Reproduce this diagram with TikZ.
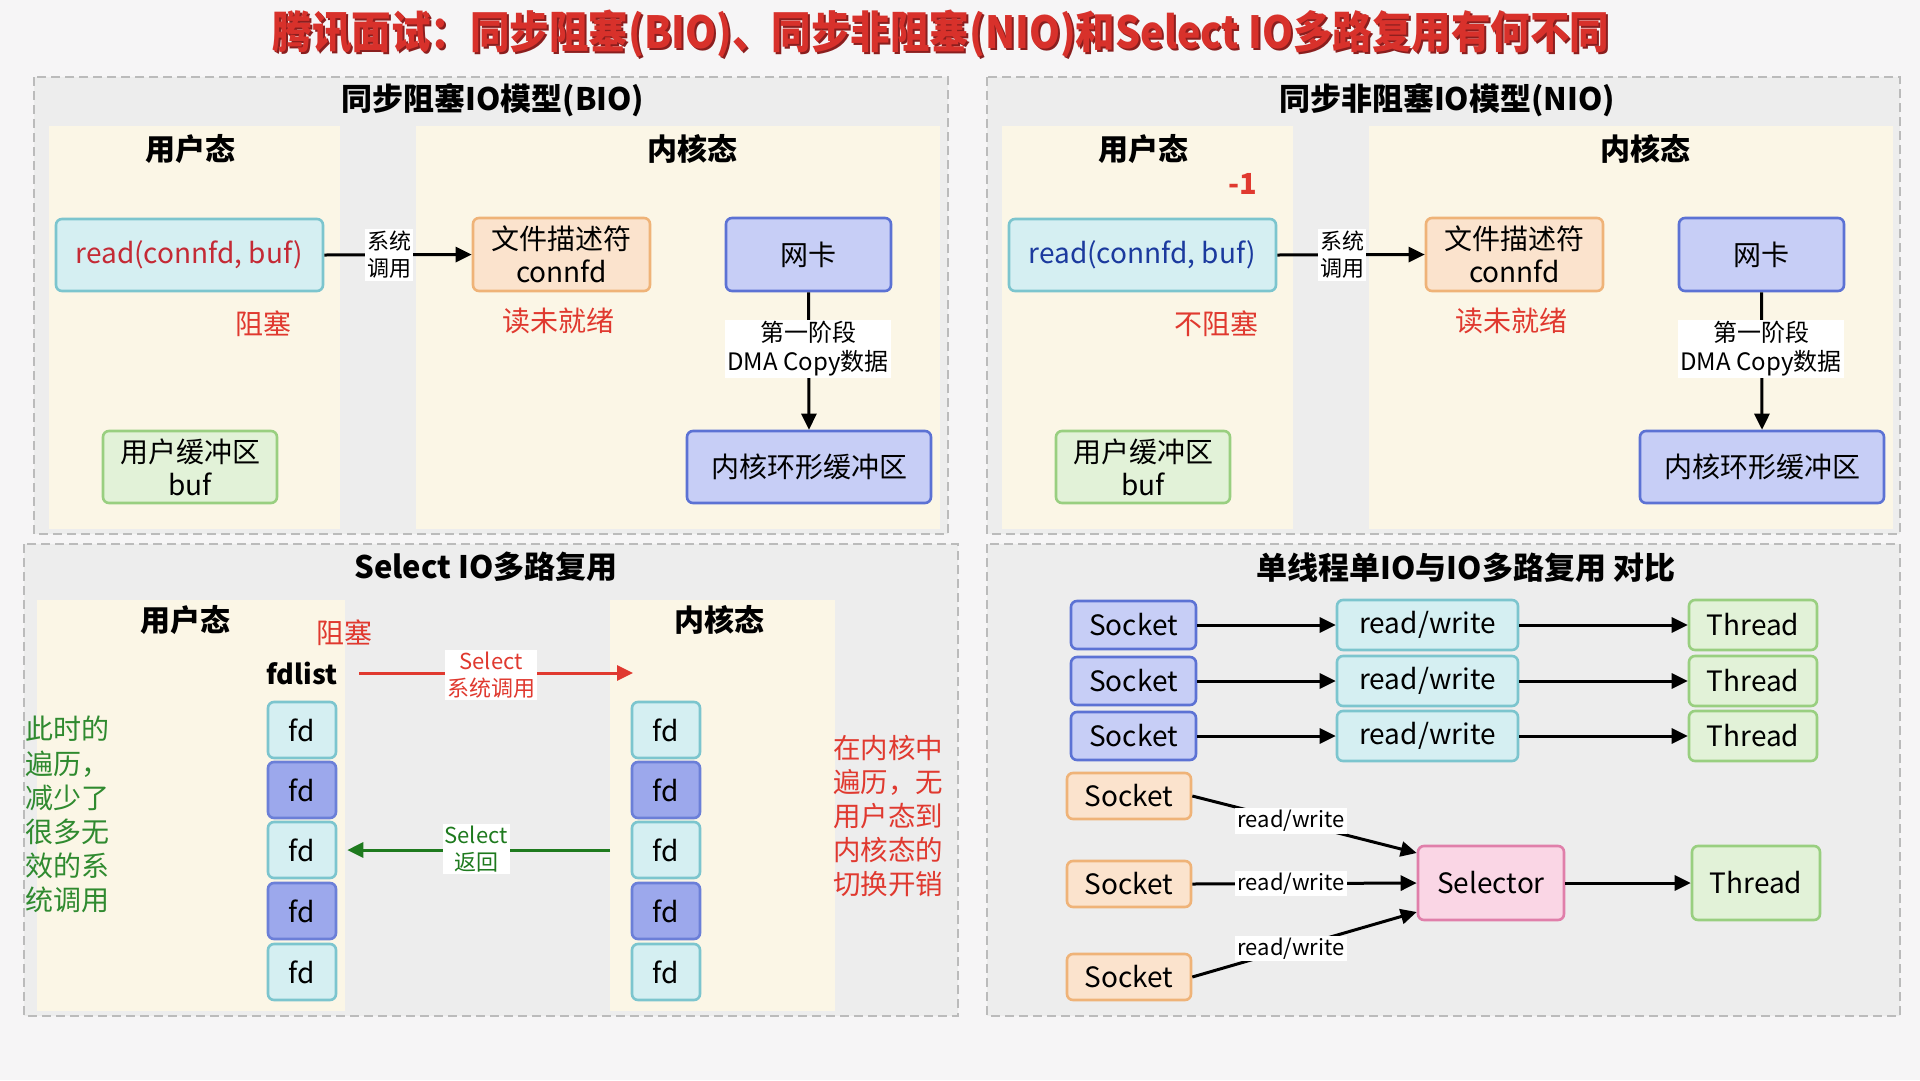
\documentclass[tikz,border=0pt]{standalone}
\usepackage{fontspec}
\setmainfont{Noto Sans CJK SC}
\usetikzlibrary{arrows.meta}
\definecolor{canvas}{HTML}{F6F5F6}
\definecolor{panelbg}{HTML}{EDEDED}
\definecolor{panelbd}{HTML}{BBBBBB}
\definecolor{cream}{HTML}{FBF6E6}
\definecolor{cyanf}{HTML}{D5EFF2}
\definecolor{cyand}{HTML}{7CC5CE}
\definecolor{peachf}{HTML}{FBE3CD}
\definecolor{peachd}{HTML}{EFB378}
\definecolor{bluef}{HTML}{C7CEF6}
\definecolor{blued}{HTML}{5C72D4}
\definecolor{fdf}{HTML}{9CA8EC}
\definecolor{fdd}{HTML}{6B7FD8}
\definecolor{greenf}{HTML}{E2F2D8}
\definecolor{greend}{HTML}{99CF80}
\definecolor{pinkf}{HTML}{FAD6E5}
\definecolor{pinkd}{HTML}{E07FAA}
\definecolor{tred}{HTML}{D8312B}
\definecolor{tshadow}{HTML}{8A1E1E}
\definecolor{lred}{HTML}{E0392F}
\definecolor{lgreen}{HTML}{2F8A2F}
\definecolor{arrgreen}{HTML}{1E7A1E}
\definecolor{nioblue}{HTML}{1B3A9E}
\definecolor{biored}{HTML}{C42A35}
\newcommand\titletext{腾讯面试：同步阻塞(BIO)、同步非阻塞(NIO)和Select IO多路复用有何不同}
\begin{document}
\begin{tikzpicture}[x=1pt,y=-1pt,
  panel/.style={draw=panelbd, line width=1.6pt, dash pattern=on 9pt off 5pt, fill=panelbg},
  col/.style={fill=cream},
  ptitle/.style={font=\bfseries\fontsize{31}{36}\selectfont},
  state/.style={font=\bfseries\fontsize{30}{34}\selectfont},
  box/.style={rounded corners=6pt, line width=2.6pt, align=center, inner sep=0pt, font=\fontsize{28}{33}\selectfont},
  cyanbox/.style={box, fill=cyanf, draw=cyand},
  peachbox/.style={box, fill=peachf, draw=peachd},
  bluebox/.style={box, fill=bluef, draw=blued},
  fdbox/.style={box, fill=fdf, draw=fdd},
  greenbox/.style={box, fill=greenf, draw=greend},
  pinkbox/.style={box, fill=pinkf, draw=pinkd},
  redtxt/.style={text=lred, font=\fontsize{28}{32}\selectfont},
  lbl/.style={fill=white, inner sep=2pt, align=center, font=\fontsize{22}{27}\selectfont},
  arr/.style={line width=3pt, -{Triangle[length=16pt,width=15pt]}},
  plain/.style={line width=3pt}
]
\useasboundingbox (0,0) rectangle (1920,1080);
\fill[canvas] (0,0) rectangle (1920,1080);

% main title
\node[text=tshadow, font=\bfseries\fontsize{39.5}{44}\selectfont, inner sep=0pt] (titleshadow) at (943,36) {\scalebox{1}[1.12]{\titletext}};
\node[text=tred, font=\bfseries\fontsize{39.5}{44}\selectfont, inner sep=0pt] (title) at (941,34) {\scalebox{1}[1.12]{\titletext}};

% ================= BIO =================
\draw[panel] (34,77) rectangle (948,534);
\fill[col] (49,126) rectangle (340,529);
\fill[col] (416,126) rectangle (940,529);
\node[ptitle] (bioT) at (493,100) {同步阻塞IO模型(BIO)};
\node[state] (bioU) at (190,149) {用户态};
\node[state] (bioK) at (692,149) {内核态};
\node[cyanbox, minimum width=267pt, minimum height=72pt, text=biored] (bioRead) at (189.5,255) {read(connfd, buf)};
\node[peachbox, minimum width=177pt, minimum height=73pt] (bioFd) at (561.5,254.5) {文件描述符\\connfd};
\node[bluebox, minimum width=165pt, minimum height=73pt] (bioNic) at (808.5,254.5) {网卡};
\node[bluebox, minimum width=244pt, minimum height=72pt] (bioRing) at (809,467) {内核环形缓冲区};
\node[greenbox, minimum width=174pt, minimum height=72pt] (bioBuf) at (190,467) {用户缓冲区\\buf};
\node[redtxt] (bioBlock) at (263,324) {阻塞};
\node[redtxt] (bioNR) at (558,321) {读未就绪};
\draw[arr] (bioRead.east) -- (bioFd.west);
\node[lbl] (bioSys) at (389,255) {系统\\调用};
\draw[arr] (bioNic.south) -- (bioRing.north);
\node[lbl, font=\fontsize{24}{29}\selectfont] (bioDma) at (808,349) {第一阶段\\DMA Copy数据};

% ================= NIO =================
\draw[panel] (987,77) rectangle (1900,534);
\fill[col] (1002,126) rectangle (1293,529);
\fill[col] (1369,126) rectangle (1893,529);
\node[ptitle] (nioT) at (1447,100) {同步非阻塞IO模型(NIO)};
\node[state] (nioU) at (1143,149) {用户态};
\node[state] (nioK) at (1645,149) {内核态};
\node[text=lred, font=\bfseries\fontsize{29}{32}\selectfont] (nioM1) at (1243,184) {-1};
\node[cyanbox, minimum width=267pt, minimum height=72pt, text=nioblue] (nioRead) at (1142.5,255) {read(connfd, buf)};
\node[peachbox, minimum width=177pt, minimum height=73pt] (nioFd) at (1514.5,254.5) {文件描述符\\connfd};
\node[bluebox, minimum width=165pt, minimum height=73pt] (nioNic) at (1761.5,254.5) {网卡};
\node[bluebox, minimum width=244pt, minimum height=72pt] (nioRing) at (1762,467) {内核环形缓冲区};
\node[greenbox, minimum width=174pt, minimum height=72pt] (nioBuf) at (1143,467) {用户缓冲区\\buf};
\node[redtxt] (nioBlock) at (1216,324) {不阻塞};
\node[redtxt] (nioNR) at (1511,321) {读未就绪};
\draw[arr] (nioRead.east) -- (nioFd.west);
\node[lbl] (nioSys) at (1342,255) {系统\\调用};
\draw[arr] (nioNic.south) -- (nioRing.north);
\node[lbl, font=\fontsize{24}{29}\selectfont] (nioDma) at (1761,349) {第一阶段\\DMA Copy数据};

% ================= Select =================
\draw[panel] (24,544) rectangle (958,1016);
\fill[col] (37,600) rectangle (345,1011);
\fill[col] (610,600) rectangle (835,1011);
\node[ptitle] (selT) at (486,567) {Select IO多路复用};
\node[state] (selU) at (185,620) {用户态};
\node[state] (selK) at (719,620) {内核态};
\node[redtxt] (selBlock) at (344,633) {阻塞};
\node[font=\bfseries\fontsize{27}{32}\selectfont] (fdlist) at (302,673) {fdlist};
\node[cyanbox, minimum width=68pt, minimum height=56pt] (u1) at (302,730) {fd};
\node[fdbox,   minimum width=68pt, minimum height=56pt] (u2) at (302,790) {fd};
\node[cyanbox, minimum width=68pt, minimum height=56pt] (u3) at (302,850) {fd};
\node[fdbox,   minimum width=68pt, minimum height=56pt] (u4) at (302,911) {fd};
\node[cyanbox, minimum width=68pt, minimum height=56pt] (u5) at (302,972) {fd};
\node[cyanbox, minimum width=68pt, minimum height=56pt] (k1) at (666,730) {fd};
\node[fdbox,   minimum width=68pt, minimum height=56pt] (k2) at (666,790) {fd};
\node[cyanbox, minimum width=68pt, minimum height=56pt] (k3) at (666,850) {fd};
\node[fdbox,   minimum width=68pt, minimum height=56pt] (k4) at (666,911) {fd};
\node[cyanbox, minimum width=68pt, minimum height=56pt] (k5) at (666,972) {fd};
\coordinate (selEnd) at (633,673);
\draw[arr, draw=lred, fill=lred] ([xshift=18pt]fdlist.east) -- (selEnd);
\node[lbl, text=lred] (selCall) at (491,675) {Select\\系统调用};
\coordinate (retStart) at (610,850);
\draw[arr, draw=arrgreen, fill=arrgreen, shorten >=10pt] (retStart) -- (u3.east);
\node[lbl, text=arrgreen] (selRet) at (476,849) {Select\\返回};
\node[anchor=north west, align=left, text=lgreen, font=\fontsize{28}{34.2}\selectfont, inner sep=0pt] (selNoteL) at (25,716) {此时的\\遍历，\\减少了\\很多无\\效的系\\统调用};
\node[align=left, text=lred, font=\fontsize{27.5}{34.2}\selectfont, inner sep=0pt] (selNoteR) at (888,816) {在内核中\\遍历，无\\用户态到\\内核态的\\切换开销};

% ================= Comparison =================
\draw[panel] (987,544) rectangle (1900,1016);
\node[ptitle] (cmpT) at (1466,568) {单线程单IO与IO多路复用 对比};
\foreach \i/\yy in {1/625,2/681,3/736}{
  \node[bluebox, minimum width=125pt, minimum height=48pt] (s\i) at (1133.5,\yy) {Socket};
  \node[cyanbox, minimum width=181pt, minimum height=50pt] (rw\i) at (1427.5,\yy) {read/write};
  \node[greenbox, minimum width=128pt, minimum height=50pt] (th\i) at (1753,\yy) {Thread};
  \draw[arr] (s\i.east) -- (rw\i.west);
  \draw[arr] (rw\i.east) -- (th\i.west);
}
\node[peachbox, minimum width=124pt, minimum height=46pt] (s4) at (1129,796) {Socket};
\node[peachbox, minimum width=124pt, minimum height=46pt] (s5) at (1129,884) {Socket};
\node[peachbox, minimum width=124pt, minimum height=46pt] (s6) at (1129,977) {Socket};
\node[pinkbox, minimum width=146pt, minimum height=74pt] (sel) at (1491,883) {Selector};
\node[greenbox, minimum width=128pt, minimum height=74pt] (th4) at (1756,883) {Thread};
\draw[arr] (s4.east) -- ([yshift=30pt]sel.west) node[lbl, pos=0.44] (l4) {read/write};
\draw[arr] (s5.east) -- (sel.west) node[lbl, pos=0.44] (l5) {read/write};
\draw[arr] (s6.east) -- ([yshift=-29pt]sel.west) node[lbl, pos=0.44] (l6) {read/write};
\draw[arr] (sel.east) -- (th4.west);
\end{tikzpicture}
\end{document}
